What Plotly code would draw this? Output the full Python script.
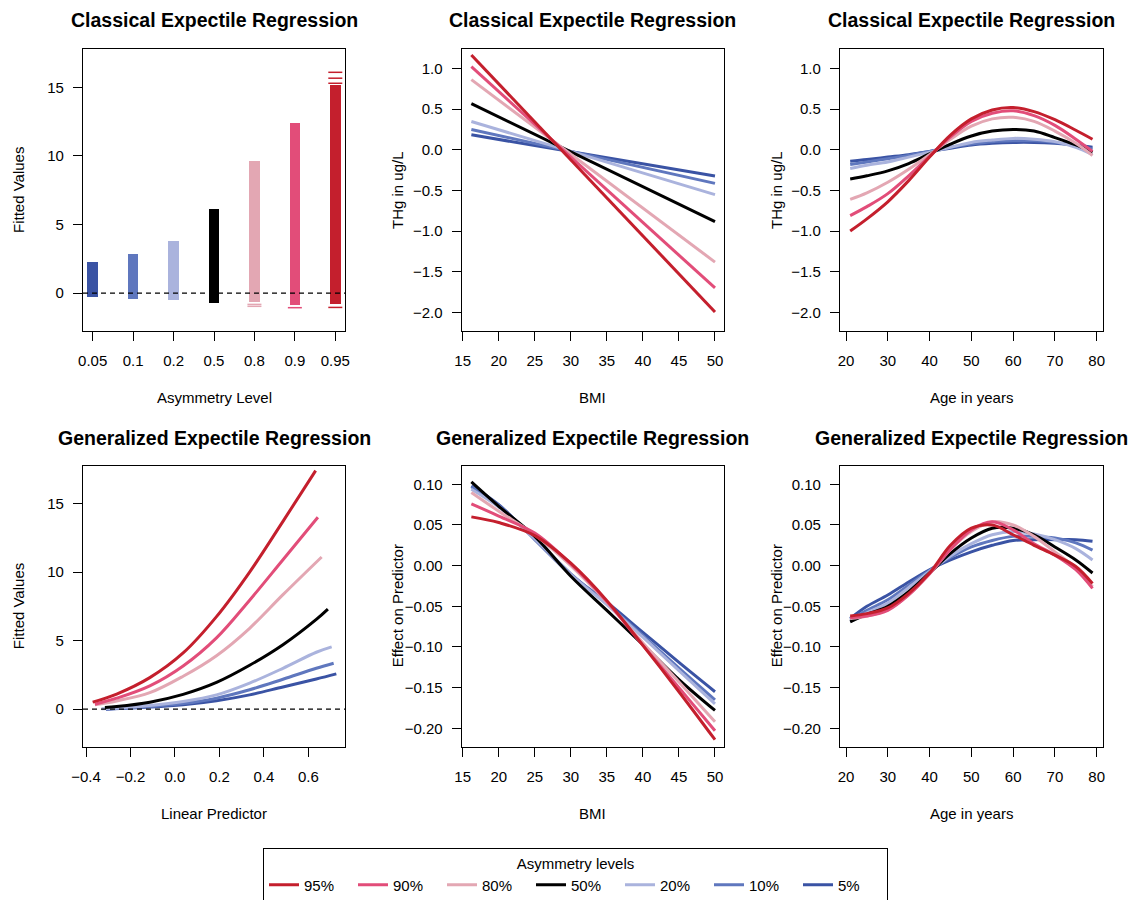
import plotly.graph_objects as go

FONT = "Liberation Sans, Arial, Helvetica, sans-serif"
W, H = 1131, 900

# ---------------- data ----------------
levels = ["5%", "10%", "20%", "50%", "80%", "90%", "95%"]
colors = ["#3A53A4", "#5F77BE", "#AAB3DD", "#000000", "#E3A7B3", "#E24D79", "#C41F2D"]

# Panel 1: classical fitted values per asymmetry level (strip ranges + isolated values)
asym_cats = ["0.05", "0.1", "0.2", "0.5", "0.8", "0.9", "0.95"]
strip_min = [-0.29, -0.41, -0.48, -0.70, -0.66, -0.85, -0.77]
strip_max = [2.24, 2.84, 3.79, 6.10, 9.63, 12.40, 15.20]
outlier_cat = ["0.8", "0.8", "0.9", "0.95", "0.95", "0.95", "0.95"]
outlier_val = [-0.83, -0.97, -1.07, -1.05, 15.30, 15.67, 16.10]

# Panel 2: classical BMI effect (linear)
bmi_ends = [16.2, 50.0]
cls_bmi = {
    "5%":  [0.184, -0.323],
    "10%": [0.250, -0.413],
    "20%": [0.348, -0.552],
    "50%": [0.568, -0.883],
    "80%": [0.863, -1.382],
    "90%": [1.022, -1.700],
    "95%": [1.166, -1.996],
}

# Panel 3: classical age effect
age_x = [21, 25, 30, 35, 40, 45, 50, 55, 60, 65, 70, 75, 79]
cls_age = {
    "5%":  [-0.14, -0.12, -0.09, -0.06, -0.02, 0.02, 0.06, 0.08, 0.09, 0.09, 0.08, 0.06, 0.03],
    "10%": [-0.18, -0.15, -0.11, -0.07, -0.02, 0.03, 0.07, 0.10, 0.11, 0.11, 0.09, 0.05, 0.01],
    "20%": [-0.23, -0.19, -0.15, -0.09, -0.03, 0.03, 0.09, 0.12, 0.14, 0.13, 0.10, 0.03, -0.06],
    "50%": [-0.36, -0.32, -0.26, -0.17, -0.05, 0.07, 0.17, 0.23, 0.25, 0.23, 0.15, 0.06, -0.03],
    "80%": [-0.61, -0.53, -0.40, -0.24, -0.06, 0.13, 0.29, 0.38, 0.40, 0.35, 0.23, 0.08, -0.07],
    "90%": [-0.81, -0.70, -0.54, -0.32, -0.08, 0.16, 0.35, 0.45, 0.48, 0.42, 0.30, 0.13, -0.02],
    "95%": [-1.00, -0.85, -0.64, -0.38, -0.09, 0.18, 0.38, 0.49, 0.52, 0.47, 0.37, 0.24, 0.13],
}

# Panel 4: generalized fitted values vs linear predictor
gen_lp_x = {
    "5%":  [-0.31, -0.113, 0.037, 0.187, 0.336, 0.486, 0.636, 0.726],
    "10%": [-0.31, -0.113, 0.037, 0.187, 0.336, 0.486, 0.636, 0.714],
    "20%": [-0.33, -0.113, 0.037, 0.187, 0.336, 0.486, 0.636, 0.705],
    "50%": [-0.315, -0.262, -0.113, 0.037, 0.187, 0.336, 0.486, 0.636, 0.688],
    "80%": [-0.36, -0.262, -0.113, 0.037, 0.187, 0.336, 0.486, 0.660],
    "90%": [-0.36, -0.262, -0.113, 0.037, 0.187, 0.336, 0.486, 0.643],
    "95%": [-0.37, -0.262, -0.113, 0.037, 0.187, 0.336, 0.486, 0.633],
}
gen_lp_y = {
    "5%":  [0.00, 0.15, 0.32, 0.61, 1.04, 1.62, 2.20, 2.57],
    "10%": [0.00, 0.19, 0.41, 0.80, 1.41, 2.18, 2.98, 3.35],
    "20%": [0.02, 0.27, 0.56, 1.04, 1.90, 2.98, 4.15, 4.54],
    "50%": [0.12, 0.19, 0.51, 1.08, 1.95, 3.20, 4.70, 6.55, 7.30],
    "80%": [0.32, 0.60, 1.20, 2.40, 3.90, 5.90, 8.35, 11.10],
    "90%": [0.36, 0.80, 1.70, 3.15, 5.20, 7.95, 10.90, 14.00],
    "95%": [0.51, 1.10, 2.30, 4.10, 6.75, 10.00, 13.70, 17.40],
}

# Panel 5: generalized BMI effect
bmi_x = [16.2, 20, 25, 30, 35, 40, 45, 50]
gen_bmi = {
    "5%":  [0.098, 0.075, 0.032, -0.011, -0.045, -0.082, -0.119, -0.155],
    "10%": [0.097, 0.074, 0.033, -0.010, -0.047, -0.086, -0.126, -0.165],
    "20%": [0.094, 0.072, 0.033, -0.011, -0.048, -0.088, -0.129, -0.170],
    "50%": [0.103, 0.073, 0.036, -0.013, -0.055, -0.097, -0.140, -0.178],
    "80%": [0.090, 0.067, 0.038, 0.000, -0.045, -0.095, -0.143, -0.192],
    "90%": [0.076, 0.061, 0.040, 0.002, -0.044, -0.098, -0.150, -0.203],
    "95%": [0.060, 0.053, 0.037, 0.003, -0.043, -0.098, -0.155, -0.214],
}

# Panel 6: generalized age effect
gen_age = {
    "5%":  [-0.065, -0.050, -0.036, -0.020, -0.005, 0.007, 0.017, 0.025, 0.031, 0.032, 0.032, 0.032, 0.030],
    "10%": [-0.067, -0.055, -0.042, -0.024, -0.006, 0.010, 0.023, 0.031, 0.036, 0.036, 0.034, 0.028, 0.019],
    "20%": [-0.069, -0.058, -0.046, -0.027, -0.007, 0.012, 0.027, 0.038, 0.042, 0.039, 0.032, 0.021, 0.007],
    "50%": [-0.069, -0.060, -0.050, -0.032, -0.009, 0.015, 0.034, 0.046, 0.046, 0.038, 0.023, 0.007, -0.009],
    "80%": [-0.065, -0.062, -0.054, -0.036, -0.010, 0.020, 0.042, 0.054, 0.050, 0.036, 0.017, -0.003, -0.026],
    "90%": [-0.064, -0.062, -0.055, -0.036, -0.010, 0.020, 0.044, 0.054, 0.044, 0.027, 0.013, -0.005, -0.028],
    "95%": [-0.062, -0.059, -0.052, -0.034, -0.009, 0.025, 0.046, 0.050, 0.038, 0.025, 0.013, -0.001, -0.022],
}

titles_top = "Classical Expectile Regression"
titles_bot = "Generalized Expectile Regression"

# ---------------- layout geometry (pixels) ----------------
cols = [(83, 345), (461.7, 724), (840, 1102.7)]
rows = [(49, 331), (465.7, 746.7)]

def xd(c):
    return [cols[c][0] / W, cols[c][1] / W]

def yd(r):
    return [1 - rows[r][1] / H, 1 - rows[r][0] / H]

fig = go.Figure()

# Panel 1 strips
fig.add_trace(go.Bar(
    x=asym_cats, y=[mx - mn for mn, mx in zip(strip_min, strip_max)], base=strip_min,
    marker=dict(color=colors, line=dict(width=0)), width=0.26,
    xaxis="x", yaxis="y", showlegend=False, hoverinfo="skip"))
cat_color = dict(zip(asym_cats, colors))
fig.add_trace(go.Scatter(
    x=outlier_cat, y=outlier_val, mode="markers",
    marker=dict(symbol="line-ew", size=10, line=dict(width=1.5, color=[cat_color[c] for c in outlier_cat])),
    xaxis="x", yaxis="y", showlegend=False, hoverinfo="skip"))

rank = {lv: i for i, lv in enumerate(reversed(levels))}
for i, lv in enumerate(levels):
    col = colors[i]
    ln = dict(color=col, width=3)
    fig.add_trace(go.Scatter(x=bmi_ends, y=cls_bmi[lv], mode="lines", line=ln, name=lv,
                             legendrank=rank[lv], showlegend=True, xaxis="x2", yaxis="y2"))
    fig.add_trace(go.Scatter(x=age_x, y=cls_age[lv], mode="lines", line=dict(ln, shape="spline"),
                             showlegend=False, xaxis="x3", yaxis="y3"))
    fig.add_trace(go.Scatter(x=gen_lp_x[lv], y=gen_lp_y[lv], mode="lines", line=dict(ln, shape="spline"),
                             showlegend=False, xaxis="x4", yaxis="y4"))
    fig.add_trace(go.Scatter(x=bmi_x, y=gen_bmi[lv], mode="lines", line=dict(ln, shape="spline"),
                             showlegend=False, xaxis="x5", yaxis="y5"))
    fig.add_trace(go.Scatter(x=age_x, y=gen_age[lv], mode="lines", line=dict(ln, shape="spline"),
                             showlegend=False, xaxis="x6", yaxis="y6"))

tickfont = dict(family=FONT, size=15, color="black")
axis_common = dict(showline=True, mirror=True, linecolor="black", linewidth=1.2,
                   ticks="outside", ticklen=9, tickwidth=1.2, tickcolor="black",
                   showgrid=False, zeroline=False, tickfont=tickfont, automargin=False)

specs = [
    (0, 0, [-0.24, 6.24], [-2.77, 17.8], None, [0, 5, 10, 15], None, "d"),
    (1, 0, [14.86, 51.25], [-2.23, 1.24], [15, 20, 25, 30, 35, 40, 45, 50], [-2, -1.5, -1, -0.5, 0, 0.5, 1], "d", ".1f"),
    (2, 0, [18.56, 81.44], [-2.23, 1.24], [20, 30, 40, 50, 60, 70, 80], [-2, -1.5, -1, -0.5, 0, 0.5, 1], "d", ".1f"),
    (0, 1, [-0.4135, 0.765], [-2.74, 17.76], [-0.4, -0.2, 0, 0.2, 0.4, 0.6], [0, 5, 10, 15], ".1f", "d"),
    (1, 1, [14.86, 51.25], [-0.2226, 0.1229], [15, 20, 25, 30, 35, 40, 45, 50], [-0.2, -0.15, -0.1, -0.05, 0, 0.05, 0.1], "d", ".2f"),
    (2, 1, [18.56, 81.44], [-0.2226, 0.1229], [20, 30, 40, 50, 60, 70, 80], [-0.2, -0.15, -0.1, -0.05, 0, 0.05, 0.1], "d", ".2f"),
]
layout = {}
for k, (c, r, xr, yr, xt, yt, xf, yf) in enumerate(specs):
    n = "" if k == 0 else str(k + 1)
    xa = dict(axis_common, domain=xd(c), range=xr, anchor="y" + n, ticklabelstandoff=7)
    if xt is None:
        xa.update(type="category", categoryorder="array", categoryarray=asym_cats)
    else:
        xa.update(tickmode="array", tickvals=xt, tickformat=xf)
    ya = dict(axis_common, domain=yd(r), range=yr, anchor="x" + n, tickmode="array",
              tickvals=yt, tickformat=yf, ticklabelstandoff=6)
    layout["xaxis" + n] = xa
    layout["yaxis" + n] = ya

annotations = []
def ann(text, x, y, size=15, bold=False, angle=0):
    annotations.append(dict(text=("<b>%s</b>" % text) if bold else text, x=x / W, y=1 - y / H,
                            xref="paper", yref="paper", showarrow=False, textangle=angle,
                            xanchor="center", yanchor="middle",
                            font=dict(family=FONT, size=size, color="black")))

xlabels_top = ["Asymmetry Level", "BMI", "Age in years"]
xlabels_bot = ["Linear Predictor", "BMI", "Age in years"]
ylabels_top = ["Fitted Values", "THg in ug/L", "THg in ug/L"]
ylabels_bot = ["Fitted Values", "Effect on Predictor", "Effect on Predictor"]
ylab_x = [18, 397, 776]
for c in range(3):
    cx = (cols[c][0] + cols[c][1]) / 2
    ann(titles_top, cx, 20, size=19.5, bold=True)
    ann(titles_bot, cx, 438, size=19.5, bold=True)
    ann(xlabels_top[c], cx, 397)
    ann(xlabels_bot[c], cx, 813)
    ann(ylabels_top[c], ylab_x[c], (rows[0][0] + rows[0][1]) / 2, angle=-90)
    ann(ylabels_bot[c], ylab_x[c], (rows[1][0] + rows[1][1]) / 2, angle=-90)

shapes = []
for ref in ["y", "y4"]:
    xr = "x" if ref == "y" else "x4"
    shapes.append(dict(type="line", xref=xr + " domain", yref=ref, x0=0, x1=1, y0=0, y1=0,
                       line=dict(color="black", width=1.3, dash="5px,4px")))

fig.update_layout(
    width=W, height=H, margin=dict(l=0, r=0, t=0, b=0, autoexpand=False),
    paper_bgcolor="white", plot_bgcolor="white",
    annotations=annotations, shapes=shapes, bargap=0,
    legend=dict(orientation="h", x=263 / W, y=1 - 848 / H, xanchor="left", yanchor="top",
                bordercolor="black", borderwidth=1, bgcolor="white",
                title=dict(text="Asymmetry levels", side="top center",
                           font=dict(family=FONT, size=15, color="black")),
                font=dict(family=FONT, size=15, color="black"),
                entrywidth=44, entrywidthmode="pixels", itemwidth=30),
    **layout,
)

fig.write_html("out.html")
